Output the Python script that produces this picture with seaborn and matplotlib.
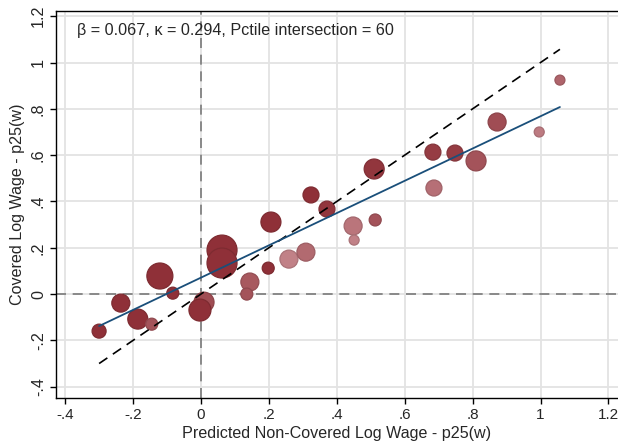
"""Binned scatter of covered vs predicted non-covered log wages."""

import matplotlib

matplotlib.use("Agg")
import matplotlib.pyplot as plt
import numpy as np
import pandas as pd
import seaborn as sns
from matplotlib.colors import LinearSegmentedColormap
from matplotlib.ticker import FuncFormatter

# Bin values
pred_noncovered = [-0.300, -0.236, -0.186, -0.145, -0.121, -0.083, 0.009, -0.003,
                   0.062, 0.062, 0.144, 0.135, 0.206, 0.198, 0.259, 0.309,
                   0.324, 0.371, 0.448, 0.451, 0.513, 0.510, 0.683, 0.748,
                   0.810, 0.872, 0.686, 0.996, 1.057]
covered = [-0.160, -0.039, -0.108, -0.130, 0.078, 0.004, -0.035, -0.069,
           0.190, 0.134, 0.052, 0.000, 0.311, 0.112, 0.151, 0.181,
           0.428, 0.367, 0.294, 0.233, 0.320, 0.540, 0.613, 0.609,
           0.575, 0.743, 0.458, 0.700, 0.924]
# bubble weight (area) and shading intensity
weight = [49, 81, 100, 36, 169, 36, 100, 121,
          225, 225, 81, 36, 100, 36, 81, 81,
          64, 64, 81, 25, 36, 100, 64, 64,
          100, 81, 64, 25, 25]
shade = [1.0, 1.0, 1.0, 0.7, 1.0, 1.0, 0.75, 1.0,
         1.0, 1.0, 0.65, 0.7, 1.0, 1.0, 0.3, 0.5,
         1.0, 0.95, 0.4, 0.3, 0.7, 0.95, 0.9, 0.9,
         0.7, 0.75, 0.45, 0.35, 0.55]

# weighted fit
fit_intercept = 0.071
fit_slope = 0.697

x_ticks = [-0.4, -0.2, 0, 0.2, 0.4, 0.6, 0.8, 1.0, 1.2]
y_ticks = [-0.4, -0.2, 0, 0.2, 0.4, 0.6, 0.8, 1.0, 1.2]
label_text = "\u03b2 = 0.067, \u03ba = 0.294, Pctile intersection = 60"


def stata_fmt(v, pos=None):
    """Format ticks like Stata: .2, -.4, 1."""
    if abs(v) < 1e-9:
        return "0"
    s = f"{v:g}"
    return s.replace("0.", ".")


def main():
    """Draw the chart."""
    sns.set_style("white")
    plt.rcParams["font.family"] = ["Liberation Sans", "DejaVu Sans"]

    df = pd.DataFrame({"x": pred_noncovered, "y": covered,
                       "w": weight, "shade": shade})

    fig = plt.figure(figsize=(6.18, 4.43), dpi=100)
    ax = fig.add_axes([0.09, 0.102, 0.91, 0.874])

    for t in x_ticks:
        ax.axvline(t, color="#e3e3e3", lw=1.3, zorder=0)
    for t in y_ticks:
        ax.axhline(t, color="#e3e3e3", lw=1.3, zorder=0)
    ax.axvline(0, color="#7a7a7a", lw=1.2, ls=(0, (6, 4)), zorder=1)
    ax.axhline(0, color="#7a7a7a", lw=1.2, ls=(0, (6, 4)), zorder=1)

    cmap = LinearSegmentedColormap.from_list(
        "reds", [(0.84, 0.64, 0.66), (0.56, 0.19, 0.22)])
    k = 2.07
    w = np.array(weight, dtype=float)
    sns.scatterplot(data=df, x="x", y="y", size="w",
                    sizes=(w.min() * k, w.max() * k),
                    size_norm=(w.min(), w.max()),
                    hue="shade", palette=cmap, hue_norm=(0, 1),
                    legend=False, ax=ax, zorder=3, linewidth=0.9)
    coll = ax.collections[-1]
    fc = coll.get_facecolors()
    ec = fc.copy()
    ec[:, :3] = ec[:, :3] * 0.88
    coll.set_edgecolors(ec)

    xs = np.array([min(pred_noncovered), max(pred_noncovered)])
    sns.lineplot(x=xs, y=xs, ax=ax, color="black", lw=1.2,
                 ls=(0, (6, 4)), zorder=4)
    sns.lineplot(x=xs, y=fit_intercept + fit_slope * xs, ax=ax,
                 color="#1a4f7a", lw=1.3, zorder=5)

    ax.set_xlim(-0.428, 1.228)
    ax.set_ylim(-0.448, 1.224)
    ax.set_xticks(x_ticks)
    ax.set_yticks(y_ticks)
    ax.xaxis.set_major_formatter(FuncFormatter(stata_fmt))
    ax.yaxis.set_major_formatter(FuncFormatter(stata_fmt))
    ax.tick_params(axis="both", direction="out", length=4, width=1,
                   color="black", labelsize=11.6, pad=3, bottom=True, left=True)
    ax.tick_params(axis="x", labelsize=11)
    plt.setp(ax.get_yticklabels(), rotation=90, va="center")
    ax.set_xlabel("Predicted Non-Covered Log Wage - p25(w)", fontsize=11.6,
                  labelpad=3)
    ax.set_ylabel("Covered Log Wage - p25(w)", fontsize=11.6, labelpad=4)

    for side in ["left", "bottom", "top"]:
        ax.spines[side].set_color("black")
        ax.spines[side].set_linewidth(1)
    ax.spines["right"].set_visible(False)

    ax.text(-0.365, 1.14, label_text, fontsize=11.6, va="center", ha="left")

    fig.savefig("out.png", dpi=100, facecolor="white")
    plt.close()


if __name__ == "__main__":
    main()
